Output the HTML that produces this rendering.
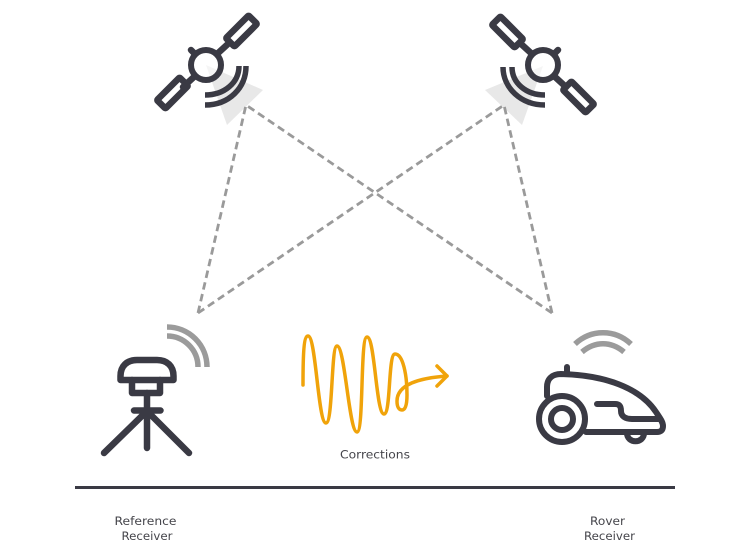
<!DOCTYPE html>
<html>
<head>
<meta charset="utf-8">
<style>
html,body{margin:0;padding:0;background:#fff}
svg{display:block}
text{font-family:"DejaVu Sans","Liberation Sans",sans-serif;font-size:11.500px;fill:#45454b}
.d{fill:none;stroke:#3a3a44;stroke-width:6.500;stroke-linecap:round;stroke-linejoin:round}
.a{fill:none;stroke:#3a3a44;stroke-width:5.500}
.g{fill:none;stroke:#9b9b9b;stroke-width:5.500}
</style>
</head>
<body>
<svg width="750" height="555" viewBox="0 0 750 555" xmlns="http://www.w3.org/2000/svg">
<!-- light triangles -->
<polygon points="206,65 263,90 227,125" fill="#e8e8e8"/>
<polygon points="543,66 485,90 522,125" fill="#e8e8e8"/>
<!-- dashed -->
<g fill="none" stroke="#9a9a9a" stroke-width="2.800" stroke-dasharray="7.500 4.500">
<path d="M198 313L246 105L552 313"/>
<path d="M198 313L504 105L552 313"/>
</g>
<!-- satellite 1 -->
<circle cx="206" cy="65" r="15" fill="#fff" fill-opacity=".55" stroke="#3a3a44" stroke-width="6"/>
<g class="d">
<path d="M195 76L183 87M217 54L229 43M195 54L191 50"/>
<rect x="225.500" y="25" width="32" height="12" rx="1" transform="rotate(-45 241.500 31)"/>
<rect x="156.500" y="87" width="32" height="12" rx="1" transform="rotate(-45 172.500 93)"/>
</g>
<path class="a" d="M205 95C224 95 239 83 239 66"/>
<path class="a" d="M205 105C229 105 246 88 246 66"/>
<!-- satellite 2 -->
<circle cx="543" cy="65" r="15" fill="#fff" fill-opacity=".55" stroke="#3a3a44" stroke-width="6"/>
<g class="d">
<path d="M554 76L566 87M532 54L520 43M554 54L558 50"/>
<rect x="491.500" y="26" width="32" height="12" rx="1" transform="rotate(45 507.500 32)"/>
<rect x="562.500" y="91" width="32" height="12" rx="1" transform="rotate(45 578.500 97)"/>
</g>
<path class="a" d="M545 95C526 95 512 83 512 67"/>
<path class="a" d="M545 105C521 105 503 88 503 67"/>
<!-- reference receiver -->
<path class="g" d="M167 327A40 40 0 0 1 207 367"/>
<path class="g" d="M167 336A31 31 0 0 1 198 367"/>
<g class="d">
<path d="M120.500 380V376C120.500 366 127 360 137 360H157C167 360 173.500 366 173.500 376V380Z"/>
<path d="M132 380V393H160V380"/>
<path d="M147 393V448M134 410.500H160.500M147 411L104 453M147 411L189 453"/>
</g>
<!-- rover -->
<path class="g" d="M575 344C591 329 615 329 631 344"/>
<path class="g" d="M582 352C595 341 611 341 624 352"/>
<g class="d" style="stroke-width:6">
<circle cx="562" cy="419" r="23"/>
<circle cx="562" cy="419" r="11"/>
<path d="M567 367V374"/>
<path d="M547 396V387C547 379 552 374 561 374C605 375 640 388 656 412C660 418 663 422 663 426C663 430 661 432 657 432H586"/>
<path d="M597 404H615C620 404 621 407 621 411C621 416 625 419 632 419H660"/>
<path d="M627 433C627 444 644 444 644 433"/>
</g>
<!-- corrections wave -->
<g fill="none" stroke="#f0a30a" stroke-width="3.500" stroke-linecap="round" stroke-linejoin="round">
<path d="M303 385C303 352 304 336 308 336C316 336 318 423 326 423C333 423 331 346 337 346C345 346 349 432 357 432C364 432 360 337 367 337C375 337 376 414 384 414C391 414 388 354 395 354C403 354 407 375 407 395C407 406 405 410 402 410C399 410 397 407 397 401C397 384 420 378 447 376"/>
<path d="M437 366L447 376L437 386"/>
</g>
<!-- baseline -->
<rect x="75" y="486" width="600" height="3" fill="#3a3a44"/>
<!-- labels -->
<text x="340" y="458.500" textLength="70" lengthAdjust="spacingAndGlyphs">Corrections</text>
<text x="114.500" y="525" textLength="62" lengthAdjust="spacingAndGlyphs">Reference</text>
<text x="121.500" y="540" textLength="51" lengthAdjust="spacingAndGlyphs">Receiver</text>
<text x="590" y="525" textLength="35" lengthAdjust="spacingAndGlyphs">Rover</text>
<text x="584" y="540" textLength="51" lengthAdjust="spacingAndGlyphs">Receiver</text>
</svg>
</body>
</html>
